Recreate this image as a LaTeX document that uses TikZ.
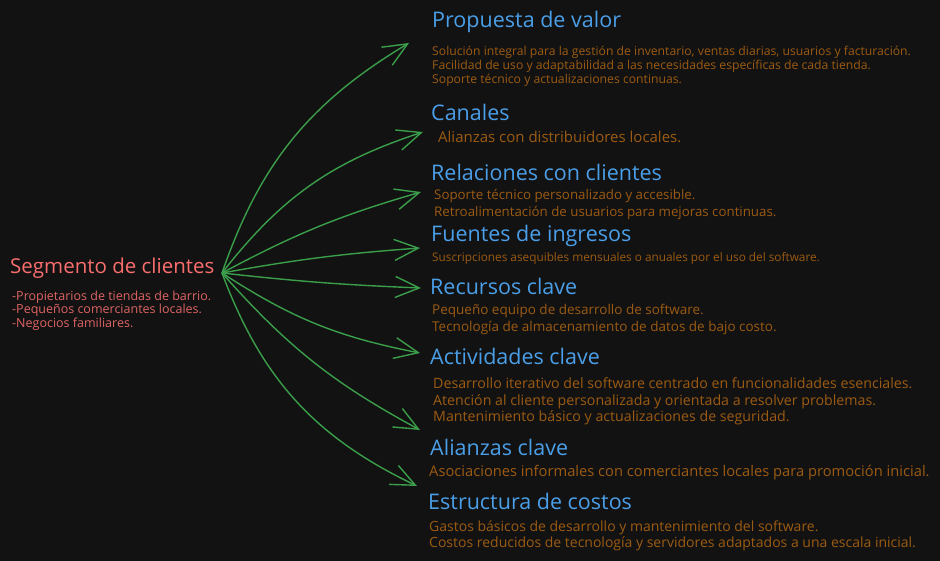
\documentclass[tikz,border=0pt]{standalone}
\usepackage{fontspec}
\setmainfont{Open Sans}
\usetikzlibrary{arrows.meta}

\definecolor{bgdark}{HTML}{121212}
\definecolor{segred}{HTML}{FA6E6E}
\definecolor{segdim}{HTML}{DE6464}
\definecolor{blocktitle}{HTML}{4A9FE8}
\definecolor{blocktext}{HTML}{9C5B12}
\definecolor{linkgreen}{HTML}{3A9E4A}

\begin{document}
\begin{tikzpicture}[x=1pt,y=-1pt,
  title/.style={anchor=west,inner sep=0pt,text=blocktitle,font=\fontsize{21.5}{24}\selectfont},
  descsmall/.style={anchor=west,inner sep=0pt,align=left,text=blocktext,font=\fontsize{12}{14}\selectfont},
  desclarge/.style={anchor=west,inner sep=0pt,align=left,text=blocktext,font=\fontsize{13.5}{17}\selectfont},
  link/.style={draw=linkgreen,line width=1.4pt,-{Straight Barb[length=24pt,width=21pt]}}]
  \fill[bgdark] (0,0) rectangle (940,561);
  \useasboundingbox (0,0) rectangle (940,561);

  % Customer segment
  \node[title,text=segred,font=\fontsize{20.5}{24}\selectfont] (seg) at (10,268) {Segmento de clientes};
  \node[descsmall,text=segdim,font=\fontsize{12.5}{13.5}\selectfont] (segdesc) at (12,310.5)
    {-Propietarios de tiendas de barrio.\\-Pequeños comerciantes locales.\\-Negocios familiares.};

  % Blocks of the canvas
  \node[title] (pv) at (432,22) {Propuesta de valor};
  \node[descsmall,font=\fontsize{12.2}{14}\selectfont] (pvdesc) at (432,66)
    {Solución integral para la gestión de inventario, ventas diarias, usuarios y facturación.\\
     Facilidad de uso y adaptabilidad a las necesidades específicas de cada tienda.\\
     Soporte técnico y actualizaciones continuas.};

  \node[title] (can) at (431,112) {Canales};
  \node[desclarge,font=\fontsize{15}{17}\selectfont] (candesc) at (438,137) {Alianzas con distribuidores locales.};

  \node[title] (rel) at (431,172) {Relaciones con clientes};
  \node[desclarge,font=\fontsize{13.3}{17}\selectfont] (reldesc) at (434,205)
    {Soporte técnico personalizado y accesible.\\Retroalimentación de usuarios para mejoras continuas.};

  \node[title] (fue) at (431,236) {Fuentes de ingresos};
  \node[descsmall,font=\fontsize{11.8}{14}\selectfont] (fuedesc) at (432,258) {Suscripciones asequibles mensuales o anuales por el uso del software.};

  \node[title] (rec) at (430,286) {Recursos clave};
  \node[desclarge] (recdesc) at (432,319.5)
    {Pequeño equipo de desarrollo de software.\\Tecnología de almacenamiento de datos de bajo costo.};

  \node[title] (act) at (430,356) {Actividades clave};
  \node[desclarge,font=\fontsize{14.2}{16.5}\selectfont] (actdesc) at (433,401.5)
    {Desarrollo iterativo del software centrado en funcionalidades esenciales.\\
     Atención al cliente personalizada y orientada a resolver problemas.\\
     Mantenimiento básico y actualizaciones de seguridad.};

  \node[title] (ali) at (430,447) {Alianzas clave};
  \node[desclarge,font=\fontsize{14.7}{17}\selectfont] (alidesc) at (429,473)
    {Asociaciones informales con comerciantes locales para promoción inicial.};

  \node[title] (est) at (428,501) {Estructura de costos};
  \node[desclarge,font=\fontsize{14}{16}\selectfont] (estdesc) at (429,536)
    {Gastos básicos de desarrollo y mantenimiento del software.\\
     Costos reducidos de tecnología y servidores adaptados a una escala inicial.};

  % Arrow ends
  \coordinate (hub) at (222,273);
  \coordinate (e1) at (409,43);
  \coordinate (e2) at (423,132);
  \coordinate (e3) at (421,192);
  \coordinate (e4) at (420,248);
  \coordinate (e5) at (421,288);
  \coordinate (e6) at (420,353);
  \coordinate (e7) at (420,430);
  \coordinate (e8) at (417,486);

  \draw[link] (hub) to[bend left=20] (e1);
  \draw[link] (hub) to[bend left=17] (e2);
  \draw[link] (hub) to[bend left=6] (e3);
  \draw[link] (hub) to[bend left=3] (e4);
  \draw[link] (hub) to[bend right=2] (e5);
  \draw[link] (hub) to[bend right=11] (e6);
  \draw[link] (hub) to[bend right=10] (e7);
  \draw[link] (hub) to[bend right=22] (e8);
\end{tikzpicture}
\end{document}
